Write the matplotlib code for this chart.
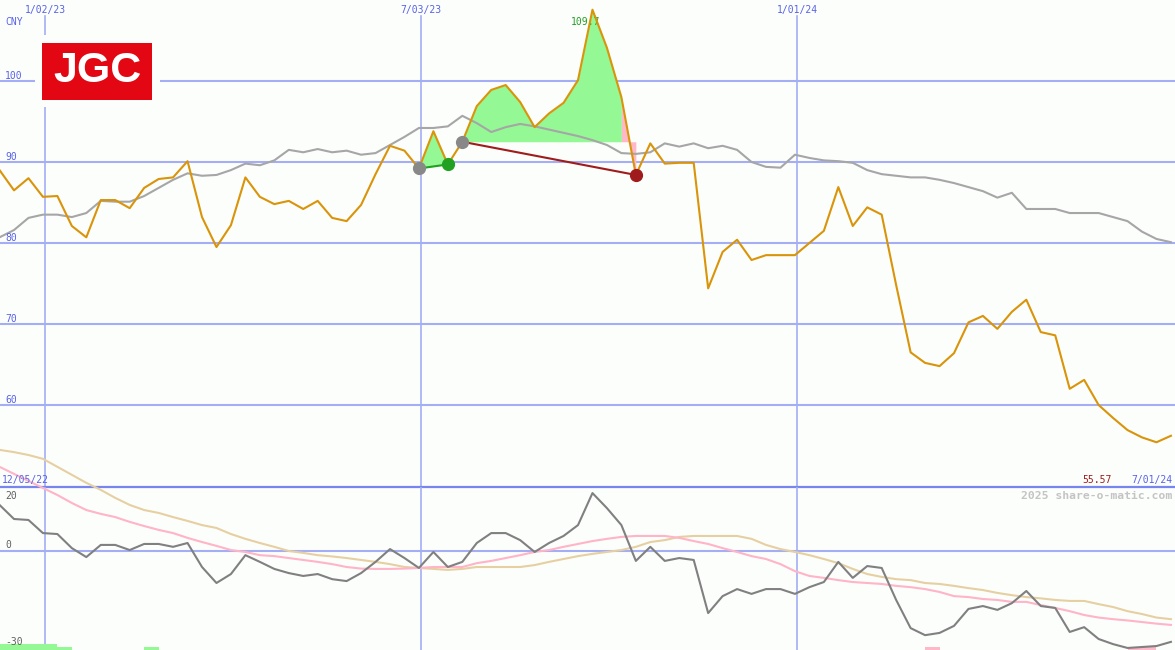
import numpy as np
import pandas as pd
import matplotlib
matplotlib.use("Agg")
import matplotlib.pyplot as plt
import matplotlib.dates as mdates
import matplotlib.transforms as mtransforms
from matplotlib.patches import Rectangle

# ---------------- data ----------------
dates = pd.date_range("2022-12-11", periods=82, freq="7D")

price = [89.0, 86.5, 88.0, 85.7, 85.8, 82.1, 80.7, 85.3, 85.3, 84.3,
         86.8, 87.9, 88.1, 90.1, 83.2, 79.5, 82.2, 88.1, 85.7, 84.8,
         85.2, 84.2, 85.2, 83.1, 82.7, 84.7, 88.5, 92.0, 91.4, 89.2,
         93.8, 89.7, 92.5, 96.9, 98.9, 99.5, 97.4, 94.3, 96.0, 97.3,
         100.1, 108.8, 104.1, 98.0, 88.4, 92.3, 89.8, 89.9, 89.9, 74.4,
         78.9, 80.4, 77.9, 78.5, 78.5, 78.5, 80.0, 81.5, 86.9, 82.1,
         84.4, 83.5, 74.8, 66.5, 65.2, 64.8, 66.4, 70.2, 71.0, 69.4,
         71.5, 73.0, 69.0, 68.6, 62.0, 63.1, 60.0, 58.4, 56.9, 56.0,
         55.4, 56.2]

moving_avg = [80.7, 81.6, 83.1, 83.5, 83.5, 83.2, 83.7, 85.2, 85.1, 85.1,
              85.8, 86.8, 87.8, 88.6, 88.3, 88.4, 89.0, 89.8, 89.6, 90.2,
              91.5, 91.2, 91.6, 91.2, 91.4, 90.9, 91.1, 92.1, 93.1, 94.2,
              94.2, 94.4, 95.7, 94.8, 93.7, 94.3, 94.7, 94.4, 94.0, 93.6,
              93.2, 92.7, 92.1, 91.1, 91.0, 91.2, 92.3, 91.9, 92.3, 91.7,
              92.0, 91.5, 90.0, 89.4, 89.3, 90.9, 90.5, 90.2, 90.1, 89.9,
              89.0, 88.5, 88.3, 88.1, 88.1, 87.8, 87.4, 86.9, 86.4, 85.6,
              86.2, 84.2, 84.2, 84.2, 83.7, 83.7, 83.7, 83.2, 82.7, 81.4,
              80.5, 80.1]

momentum = [14.4, 10.0, 9.7, 5.6, 5.3, 0.9, -1.9, 1.9, 1.9, 0.3,
            2.2, 2.2, 1.3, 2.5, -5.0, -10.0, -7.2, -1.3, -3.4, -5.6,
            -6.9, -7.8, -7.2, -8.8, -9.4, -6.9, -3.4, 0.6, -2.2, -5.3,
            -0.3, -5.0, -3.4, 2.5, 5.6, 5.6, 3.4, -0.3, 2.5, 4.7,
            8.1, 18.1, 13.4, 8.1, -3.1, 1.3, -3.1, -2.2, -2.8, -19.4,
            -14.1, -11.9, -13.4, -11.9, -11.9, -13.4, -11.3, -9.7, -3.4, -8.4,
            -4.7, -5.3, -15.3, -24.1, -26.3, -25.6, -23.4, -18.1, -17.2, -18.4,
            -16.3, -12.5, -17.2, -17.8, -25.3, -23.8, -27.5, -29.1, -30.3, -30.0,
            -29.7, -28.4]

signal_fast = [26.3, 24.1, 21.9, 19.7, 17.5, 15.0, 12.8, 11.6, 10.6, 9.1,
               7.8, 6.6, 5.6, 4.1, 2.8, 1.6, 0.3, -0.3, -1.3, -1.6,
               -2.2, -2.8, -3.4, -4.1, -5.0, -5.5, -5.6, -5.6, -5.5, -5.3,
               -5.0, -5.0, -5.0, -3.8, -3.1, -2.2, -1.3, -0.3, 0.3, 1.3,
               2.2, 3.1, 3.8, 4.4, 4.7, 4.7, 4.7, 4.1, 3.1, 2.2,
               0.9, -0.3, -1.6, -2.5, -4.1, -6.3, -7.8, -8.4, -9.1, -9.7,
               -10.0, -10.3, -10.9, -11.3, -11.9, -12.8, -14.1, -14.4, -15.0, -15.3,
               -15.9, -15.9, -16.9, -17.8, -18.8, -20.0, -20.8, -21.3, -21.7, -22.2,
               -22.7, -23.1]

signal_slow = [31.6, 30.9, 30.0, 28.8, 26.3, 23.8, 21.3, 19.1, 16.6, 14.4,
               12.8, 11.9, 10.6, 9.4, 8.1, 7.2, 5.3, 3.8, 2.5, 1.3,
               0.0, -0.6, -1.3, -1.7, -2.2, -2.8, -3.4, -4.1, -5.0, -5.3,
               -5.6, -5.9, -5.6, -5.0, -5.0, -5.0, -5.0, -4.4, -3.4, -2.5,
               -1.6, -0.9, -0.3, 0.3, 1.3, 2.8, 3.4, 4.4, 4.7, 4.7,
               4.7, 4.7, 3.8, 1.9, 0.6, -0.3, -1.3, -2.5, -3.8, -5.6,
               -7.2, -8.1, -8.8, -9.1, -10.0, -10.3, -10.9, -11.6, -12.2, -13.1,
               -13.8, -14.4, -14.8, -15.3, -15.6, -15.6, -16.6, -17.5, -18.8, -19.7,
               -20.8, -21.3]

# trades: (entry index, exit index)
trade_win = (29, 31)
trade_loss = (32, 44)
loss_shade_from = 43

# small signal bars at the bottom of the lower panel
buy_bar_idx = [0, 1, 2, 3, 4, 10]
buy_bar_h = [1.9, 1.9, 1.9, 1.9, 0.95, 0.95]
sell_bar_idx = [64, 78, 79]
sell_bar_h = [0.95, 0.95, 0.95]

grid_dates = ["2023-01-02", "2023-07-03", "2024-01-01"]
grid_labels = ["1/02/23", "7/03/23", "1/01/24"]
price_levels = [100, 90, 80, 70, 60]
osc_labels = ["20", "0", "-30"]
osc_label_rows = [499, 548, 645]
peak_label = "109.7"
last_label = "55.57"
start_label = "12/05/22"
end_label = "7/01/24"

# ---------------- style ----------------
W, H = 1175, 650
BG = "#fcfefc"
GRID = "#a4aef4"
SEP = "#7686ee"
BLUE_TXT = "#5862e8"
PRICE_C = "#d9940a"
AVG_C = "#a6a6a6"
MOM_C = "#808080"
FAST_C = "#ffb4c8"
SLOW_C = "#e6d0a2"
GREEN_FILL = "#94f894"
PINK_FILL = "#ffb8c8"
GREEN_DOT = "#22a022"
RED_C = "#a01c1c"
GREY_DOT = "#888888"
MONO = "DejaVu Sans Mono"

fig = plt.figure(figsize=(W / 100, H / 100), dpi=100, facecolor=BG)
top_h = 487
ax1 = fig.add_axes([0, (H - top_h) / H, 1, top_h / H])
ax2 = fig.add_axes([0, 0, 1, (H - top_h) / H])
for ax in (ax1, ax2):
    ax.set_facecolor("none")
    for s in ax.spines.values():
        s.set_visible(False)
    ax.set_xticks([])
    ax.set_yticks([])
ax2.set_zorder(2)

x = mdates.date2num(dates)
px_per_day = 376 / 182.0
x_left = mdates.date2num(pd.Timestamp("2022-12-11")) + 0.22
x_right = x_left + W / px_per_day
ax1.set_xlim(x_left, x_right)
ax2.set_xlim(x_left, x_right)
ax1.set_ylim(100 - (top_h - 81) / 8.1, 110.0)
ax2.set_ylim(20 - (H - top_h) / 3.2, 20)

price = np.array(price)

# grid lines
for v in price_levels:
    ax1.axhline(v, color=GRID, lw=1.5, zorder=1)
ax2.axhline(0, color=GRID, lw=1.5, zorder=1)
ax2.axhline(20, color=SEP, lw=1.6, zorder=1, clip_on=False)
gx = mdates.date2num(pd.to_datetime(grid_dates))
for g in gx:
    ax1.axvline(g, ymin=0, ymax=1 - 16 / top_h, color=GRID, lw=1.2, zorder=1)
    ax2.axvline(g, color=GRID, lw=1.2, zorder=1)

# fills for trades
a, b = trade_win
xa = x[a:b + 1]
base_a = np.interp(xa, [x[a], x[b]], [price[a], price[b]])
ax1.fill_between(xa, price[a:b + 1], base_a, where=price[a:b + 1] >= base_a,
                 interpolate=True, color=GREEN_FILL, lw=0, zorder=2)
c, d = trade_loss
base_c = price[c]
xc = x[c:loss_shade_from + 1]
ax1.fill_between(xc, price[c:loss_shade_from + 1], base_c,
                 where=price[c:loss_shade_from + 1] >= base_c,
                 interpolate=True, color=GREEN_FILL, lw=0, zorder=2)
xd = x[loss_shade_from:d + 1]
ax1.fill_between(xd, price[loss_shade_from:d + 1], base_c,
                 color=PINK_FILL, lw=0, zorder=2)

# lines
ax1.plot(x, moving_avg, color=AVG_C, lw=1.5, zorder=3)
ax1.plot(x, price, color=PRICE_C, lw=1.5, zorder=4)
ax1.plot([x[a], x[b]], [price[a], price[b]], color=GREEN_DOT, lw=1.5, zorder=5)
ax1.plot([x[c], x[d]], [price[c], price[d]], color=RED_C, lw=1.5, zorder=5)
ax1.plot([x[a]], [price[a]], "o", color=GREY_DOT, ms=8.5, zorder=6)
ax1.plot([x[b]], [price[b]], "o", color=GREEN_DOT, ms=8.5, zorder=6)
ax1.plot([x[c]], [price[c]], "o", color=GREY_DOT, ms=8.5, zorder=6)
ax1.plot([x[d]], [price[d]], "o", color=RED_C, ms=8.5, zorder=6)

ax2.plot(x, signal_slow, color=SLOW_C, lw=1.5, zorder=3, clip_on=False)
ax2.plot(x, signal_fast, color=FAST_C, lw=1.5, zorder=3, clip_on=False)
ax2.plot(x, momentum, color=MOM_C, lw=1.5, zorder=4)

ylow = ax2.get_ylim()[0]
ax2.bar(x[buy_bar_idx], buy_bar_h, width=7, bottom=ylow, align="edge",
        color=GREEN_FILL, lw=0, zorder=2)
ax2.bar(x[sell_bar_idx], sell_bar_h, width=7, bottom=ylow, align="edge",
        color=PINK_FILL, lw=0, zorder=2)

# ---------------- texts ----------------
def fy(py):
    return 1 - py / H

def fx(px):
    return px / W

tr1 = mtransforms.blended_transform_factory(ax1.transData, fig.transFigure)
for g, lab in zip(gx, grid_labels):
    ax1.text(g, fy(12.5), lab, transform=tr1, ha="center", va="baseline",
             fontsize=7, family=MONO, color=BLUE_TXT, zorder=7)

fig.text(fx(5), fy(25), "CNY", ha="left", va="baseline", fontsize=7,
         family=MONO, color=BLUE_TXT)
trl = mtransforms.blended_transform_factory(fig.transFigure, ax1.transData)
for v in price_levels:
    ax1.text(fx(5), v + 2.0 / 8.1, str(v), transform=trl, ha="left",
             va="baseline", fontsize=7, family=MONO, color=BLUE_TXT, zorder=7)

ax1.text(x[41] - 3.5, fy(25), peak_label, transform=tr1, ha="center",
         va="baseline", fontsize=7, family=MONO, color=GREEN_DOT, zorder=3)

for lab, row in zip(osc_labels, osc_label_rows):
    fig.text(fx(5), fy(row), lab, ha="left", va="baseline", fontsize=7,
             family=MONO, color="#606060", zorder=7)

fig.text(fx(2), fy(483), start_label, ha="left", va="baseline", fontsize=7,
         family=MONO, color=BLUE_TXT, zorder=8)
fig.text(fx(1172), fy(483), end_label, ha="right", va="baseline", fontsize=7,
         family=MONO, color=BLUE_TXT, zorder=8)
fig.text(fx(1112), fy(483), last_label, ha="right", va="baseline", fontsize=7,
         family=MONO, color=RED_C, zorder=8)
fig.text(fx(1172), fy(499), "2025 share-o-matic.com", ha="right",
         va="baseline", fontsize=8.2, family=MONO, weight="bold",
         color="#c4c4c4", zorder=8)

# logo
fig.add_artist(Rectangle((fx(35), fy(107)), fx(125), 72 / H,
                         transform=fig.transFigure, facecolor=BG,
                         edgecolor="none", zorder=5))
fig.add_artist(Rectangle((fx(42), fy(100)), fx(110), 57 / H,
                         transform=fig.transFigure, facecolor="#e30613",
                         edgecolor="none", zorder=6))
fig.text(fx(97), fy(71.5), "JGC", ha="center", va="center", fontsize=31,
         family="Liberation Sans", weight="bold", color="white", zorder=7)

fig.savefig("out.png", dpi=100, facecolor=BG)
